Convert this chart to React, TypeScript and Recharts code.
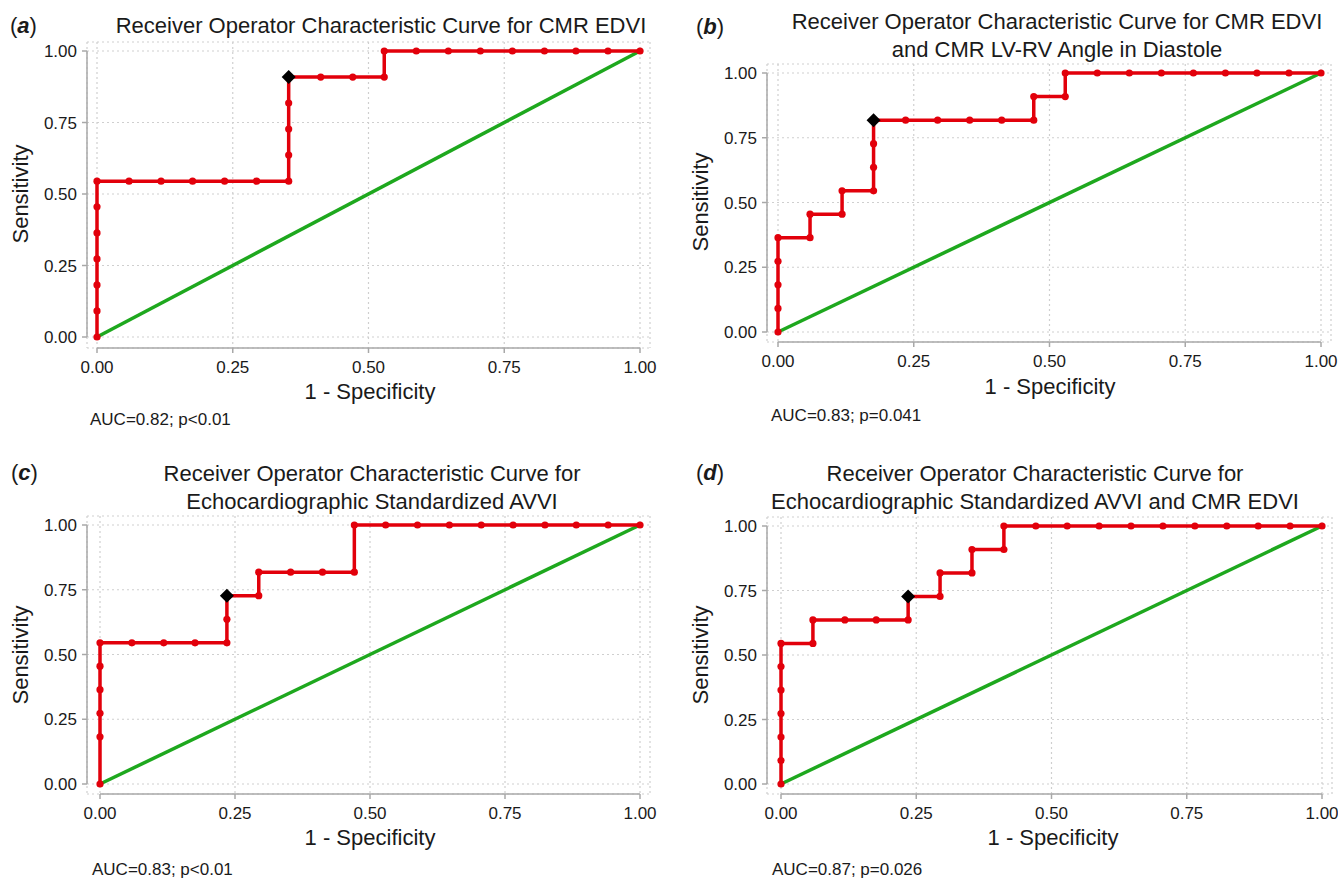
import React from "react";
import { ComposedChart, Line, Scatter, XAxis, YAxis, CartesianGrid, ReferenceLine } from "recharts";

// ROC points (1 - specificity, sensitivity)
const fprA = [0, 0, 0, 0, 0, 0, 0, 0.059, 0.118, 0.176, 0.235, 0.294, 0.353, 0.353, 0.353, 0.353, 0.353, 0.412, 0.471, 0.529, 0.529, 0.588, 0.647, 0.706, 0.765, 0.824, 0.882, 0.941, 1];
const tprA = [0, 0.091, 0.182, 0.273, 0.364, 0.455, 0.545, 0.545, 0.545, 0.545, 0.545, 0.545, 0.545, 0.636, 0.727, 0.818, 0.909, 0.909, 0.909, 0.909, 1, 1, 1, 1, 1, 1, 1, 1, 1];
const cutA = { x: 0.353, y: 0.909 };

const fprB = [0, 0, 0, 0, 0, 0.059, 0.059, 0.118, 0.118, 0.176, 0.176, 0.176, 0.176, 0.235, 0.294, 0.353, 0.412, 0.471, 0.471, 0.529, 0.529, 0.588, 0.647, 0.706, 0.765, 0.824, 0.882, 0.941, 1];
const tprB = [0, 0.091, 0.182, 0.273, 0.364, 0.364, 0.455, 0.455, 0.545, 0.545, 0.636, 0.727, 0.818, 0.818, 0.818, 0.818, 0.818, 0.818, 0.909, 0.909, 1, 1, 1, 1, 1, 1, 1, 1, 1];
const cutB = { x: 0.176, y: 0.818 };

const fprC = [0, 0, 0, 0, 0, 0, 0.059, 0.118, 0.176, 0.235, 0.235, 0.235, 0.294, 0.294, 0.353, 0.412, 0.471, 0.471, 0.529, 0.588, 0.647, 0.706, 0.765, 0.824, 0.882, 0.941, 1];
const tprC = [0, 0.182, 0.273, 0.364, 0.455, 0.545, 0.545, 0.545, 0.545, 0.545, 0.636, 0.727, 0.727, 0.818, 0.818, 0.818, 0.818, 1, 1, 1, 1, 1, 1, 1, 1, 1, 1];
const cutC = { x: 0.235, y: 0.727 };

const fprD = [0, 0, 0, 0, 0, 0, 0, 0.059, 0.059, 0.118, 0.176, 0.235, 0.235, 0.294, 0.294, 0.353, 0.353, 0.412, 0.412, 0.471, 0.529, 0.588, 0.647, 0.706, 0.765, 0.824, 0.882, 0.941, 1];
const tprD = [0, 0.091, 0.182, 0.273, 0.364, 0.455, 0.545, 0.545, 0.636, 0.636, 0.636, 0.636, 0.727, 0.727, 0.818, 0.818, 0.909, 0.909, 1, 1, 1, 1, 1, 1, 1, 1, 1, 1, 1];
const cutD = { x: 0.235, y: 0.727 };

const diagX = [0, 1];
const diagY = [0, 1];
const ticks = [0, 0.25, 0.5, 0.75, 1];

const RED = "#e2000b";
const GREEN = "#1ea81e";
const AXIS = "#a8a8a8";
const GRID = "#cfcfcf";
const TXT = "#1a1a1a";

const toPoints = (xs: number[], ys: number[]) => xs.map((x, i) => ({ x, y: ys[i] }));

const Diamond = (props: any) => {
  const { cx, cy } = props;
  const s = 7;
  return <polygon points={`${cx},${cy - s} ${cx + s},${cy} ${cx},${cy + s} ${cx - s},${cy}`} fill="#000" />;
};

interface PanelProps {
  ox: number; oy: number; w: number; h: number;
  box: { left: number; right: number; top: number; bottom: number };
  x0: number; x1: number; y0: number; y1: number;
  fpr: number[]; tpr: number[]; cut: { x: number; y: number };
}

function Panel({ ox, oy, w, h, box, x0, x1, y0, y1, fpr, tpr, cut }: PanelProps) {
  const yw = 60;
  const xh = 30;
  const xs = x1 - x0;
  const ys = y0 - y1;
  const xmin = (box.left - x0) / xs;
  const xmax = (box.right - x0) / xs;
  const ymin = (y0 - box.bottom) / ys;
  const ymax = (y0 - box.top) / ys;
  return (
    <div style={{ position: "absolute", left: ox, top: oy }}>
      <ComposedChart
        width={w}
        height={h}
        margin={{ left: box.left - ox - yw, right: ox + w - box.right, top: box.top - oy, bottom: oy + h - box.bottom - xh }}
      >
        <CartesianGrid stroke={GRID} strokeDasharray="2 3" strokeWidth={1.2} />
        <XAxis
          type="number"
          dataKey="x"
          domain={[xmin, xmax]}
          ticks={ticks}
          allowDataOverflow
          height={xh}
          axisLine={false}
          tickLine={{ stroke: AXIS, strokeWidth: 1.5 }}
          tickSize={5}
          tickMargin={8}
          tick={{ fill: TXT, fontSize: 17 }}
          tickFormatter={(v: number) => v.toFixed(2)}
        />
        <YAxis
          type="number"
          dataKey="y"
          domain={[ymin, ymax]}
          ticks={ticks}
          allowDataOverflow
          width={yw}
          axisLine={false}
          tickLine={{ stroke: AXIS, strokeWidth: 1.5 }}
          tickSize={5}
          tickMargin={5}
          tick={{ fill: TXT, fontSize: 17 }}
          tickFormatter={(v: number) => v.toFixed(2)}
        />
        <ReferenceLine segment={[{ x: 0, y: ymin }, { x: 1, y: ymin }]} stroke={AXIS} strokeWidth={1.5} ifOverflow="visible" />
        <ReferenceLine segment={[{ x: xmin, y: 0 }, { x: xmin, y: 1 }]} stroke={AXIS} strokeWidth={1.5} ifOverflow="visible" />
        <Line data={toPoints(diagX, diagY)} dataKey="y" type="linear" stroke={GREEN} strokeWidth={3.5} dot={false} isAnimationActive={false} />
        <Line
          data={toPoints(fpr, tpr)}
          dataKey="y"
          type="linear"
          stroke={RED}
          strokeWidth={3.5}
          dot={{ r: 3.6, fill: RED, stroke: RED, strokeWidth: 0 }}
          isAnimationActive={false}
        />
        <Scatter data={[cut]} dataKey="y" shape={Diamond} isAnimationActive={false} />
      </ComposedChart>
    </div>
  );
}

const Txt = ({ x, y, size, children, anchor = "center", rotate = 0 }: any) => (
  <div
    style={{
      position: "absolute",
      left: x,
      top: y,
      fontSize: size,
      color: TXT,
      whiteSpace: "nowrap",
      lineHeight: 1.25,
      textAlign: "center",
      transform: `translate(${anchor === "left" ? "0" : "-50%"}, -50%) rotate(${rotate}deg)`,
    }}
  >
    {children}
  </div>
);

const Tag = ({ l }: { l: string }) => (
  <span>
    (<b><i>{l}</i></b>)
  </span>
);

export default function App() {
  return (
    <div
      style={{
        position: "absolute",
        left: 0,
        top: 0,
        width: 1338,
        height: 879,
        background: "#fff",
        fontFamily: "'Liberation Sans', Arial, sans-serif",
        overflow: "hidden",
      }}
    >
      <Panel ox={0} oy={0} w={680} h={440} box={{ left: 87, right: 650, top: 42, bottom: 348 }} x0={97} x1={640} y0={337} y1={51} fpr={fprA} tpr={tprA} cut={cutA} />
      <Panel ox={680} oy={0} w={658} h={440} box={{ left: 767, right: 1331, top: 64, bottom: 342 }} x0={778} x1={1321} y0={332} y1={73} fpr={fprB} tpr={tprB} cut={cutB} />
      <Panel ox={0} oy={440} w={680} h={439} box={{ left: 87, right: 650, top: 516, bottom: 794 }} x0={100} x1={640} y0={784} y1={525} fpr={fprC} tpr={tprC} cut={cutC} />
      <Panel ox={680} oy={440} w={658} h={439} box={{ left: 767, right: 1332, top: 517, bottom: 794 }} x0={781} x1={1322} y0={784} y1={526} fpr={fprD} tpr={tprD} cut={cutD} />

      <Txt x={10} y={26} size={22} anchor="left"><Tag l="a" /></Txt>
      <Txt x={381} y={26} size={22}>Receiver Operator Characteristic Curve for CMR EDVI</Txt>
      <Txt x={21} y={194} size={22} rotate={-90}>Sensitivity</Txt>
      <Txt x={370} y={392} size={22}>1 - Specificity</Txt>
      <Txt x={90} y={420} size={17} anchor="left">AUC=0.82; p&lt;0.01</Txt>

      <Txt x={696} y={27} size={22} anchor="left"><Tag l="b" /></Txt>
      <Txt x={1057} y={35} size={22}>Receiver Operator Characteristic Curve for CMR EDVI<br />and CMR LV-RV Angle in Diastole</Txt>
      <Txt x={701} y={202} size={22} rotate={-90}>Sensitivity</Txt>
      <Txt x={1050} y={387} size={22}>1 - Specificity</Txt>
      <Txt x={771} y={416} size={17} anchor="left">AUC=0.83; p=0.041</Txt>

      <Txt x={11} y={473} size={22} anchor="left"><Tag l="c" /></Txt>
      <Txt x={372} y={487} size={22}>Receiver Operator Characteristic Curve for<br />Echocardiographic Standardized AVVI</Txt>
      <Txt x={21} y={655} size={22} rotate={-90}>Sensitivity</Txt>
      <Txt x={370} y={838} size={22}>1 - Specificity</Txt>
      <Txt x={92} y={870} size={17} anchor="left">AUC=0.83; p&lt;0.01</Txt>

      <Txt x={696} y={473} size={22} anchor="left"><Tag l="d" /></Txt>
      <Txt x={1035} y={487} size={22}>Receiver Operator Characteristic Curve for<br />Echocardiographic Standardized AVVI and CMR EDVI</Txt>
      <Txt x={701} y={655} size={22} rotate={-90}>Sensitivity</Txt>
      <Txt x={1053} y={838} size={22}>1 - Specificity</Txt>
      <Txt x={772} y={870} size={17} anchor="left">AUC=0.87; p=0.026</Txt>
    </div>
  );
}
